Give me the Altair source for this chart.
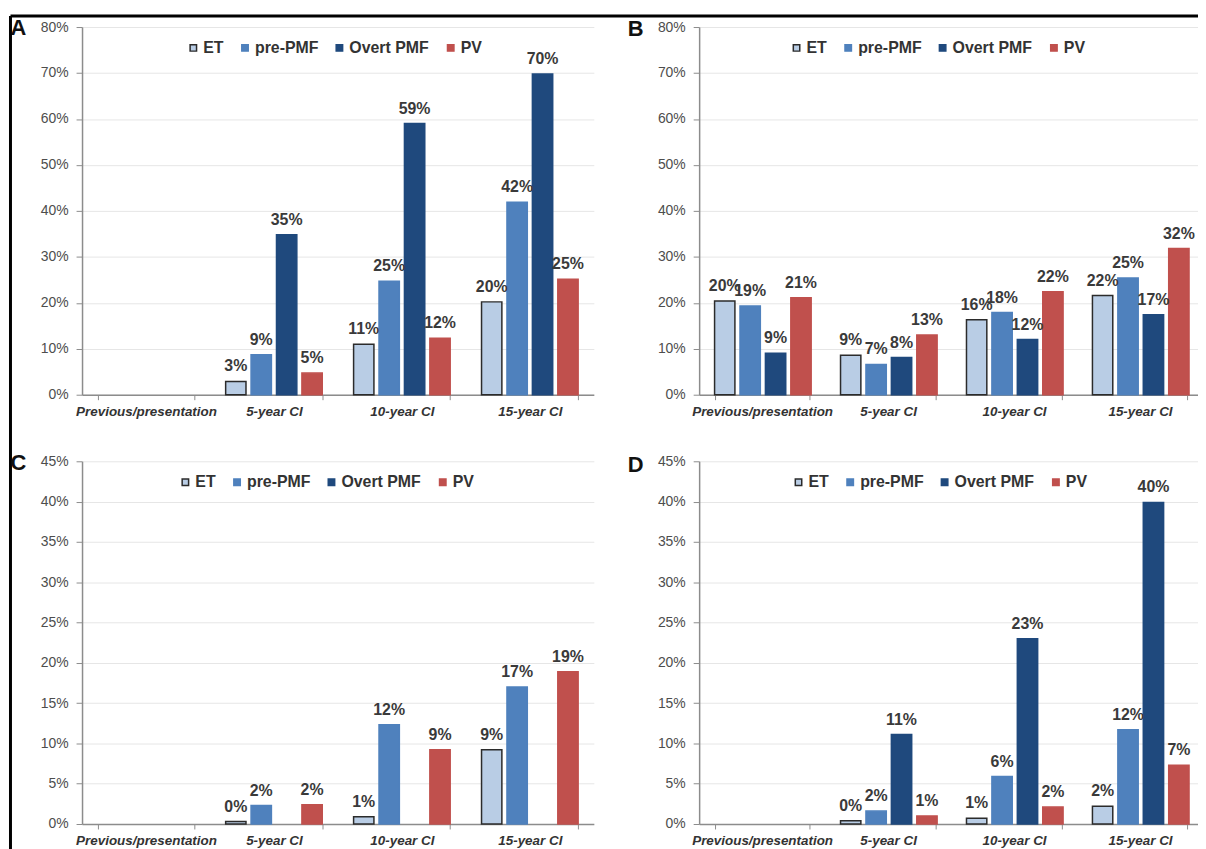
import altair as alt
import pandas as pd

stages = ["Previous/presentation", "5-year CI", "10-year CI", "15-year CI"]
types = ["ET", "pre-PMF", "Overt PMF", "PV"]
fills = ["#B9CDE5", "#4F81BD", "#1F497D", "#C0504D"]
strokes = ["#2b2b2b", "#4F81BD", "#1F497D", "#C0504D"]

# Panel A (values as fractions, None = no bar)
a_et = [None, 0.029, 0.110, 0.202]
a_pre = [None, 0.087, 0.247, 0.419]
a_overt = [None, 0.348, 0.590, 0.698]
a_pv = [None, 0.047, 0.123, 0.251]

# Panel B
b_et = [0.204, 0.086, 0.163, 0.216]
b_pre = [0.193, 0.066, 0.179, 0.254]
b_overt = [0.090, 0.081, 0.120, 0.174]
b_pv = [0.211, 0.130, 0.224, 0.318]

# Panel C
c_et = [None, 0.003, 0.009, 0.092]
c_pre = [None, 0.023, 0.123, 0.170]
c_overt = [None, None, None, None]
c_pv = [None, 0.024, 0.092, 0.189]

# Panel D
d_et = [None, 0.004, 0.007, 0.022]
d_pre = [None, 0.016, 0.059, 0.117]
d_overt = [None, 0.111, 0.230, 0.399]
d_pv = [None, 0.010, 0.021, 0.073]

y_ticks_top = [0, 0.1, 0.2, 0.3, 0.4, 0.5, 0.6, 0.7, 0.8]
y_ticks_bottom = [0, 0.05, 0.1, 0.15, 0.2, 0.25, 0.3, 0.35, 0.4, 0.45]

FONT = "Liberation Sans"


def panel(letter, series, ymax, yvals, width, height, legend_x, legend_y, letter_y, border=False):
    rows = []
    for t, vals in zip(types, series):
        for s, v in zip(stages, vals):
            if v is not None:
                rows.append({"stage": s, "type": t, "value": v})
    df = pd.DataFrame(rows)

    leg = alt.Legend(
        title=None, orient="none", legendX=legend_x, legendY=legend_y,
        direction="horizontal", symbolType="square", symbolSize=42,
        symbolStrokeWidth=1.5, labelFont=FONT, labelFontSize=16,
        labelFontWeight="bold", labelColor="#333333", labelOffset=2,
        columnPadding=13,
    )

    base = alt.Chart(df).encode(
        x=alt.X(
            "stage:N", sort=stages,
            scale=alt.Scale(domain=stages, paddingInner=0.245, paddingOuter=0.1225),
            axis=alt.Axis(
                title=None, labelAngle=0, labelFont=FONT, labelFontSize=13.5,
                labelFontStyle="italic", labelFontWeight="bold", labelColor="#333333",
                labelPadding=5, labelLimit=400, labelOverlap=False, tickBand="extent",
                tickSize=5, tickColor="#8c8c8c", domainColor="#8c8c8c", domainWidth=1.5,
                grid=False,
            ),
        ),
        xOffset=alt.XOffset("type:N", sort=types,
                            scale=alt.Scale(domain=types, paddingInner=0.2, paddingOuter=0)),
        y=alt.Y(
            "value:Q",
            scale=alt.Scale(domain=[0, ymax], nice=False, zero=True),
            axis=alt.Axis(
                title=None, values=yvals, format=".0%", labelFont=FONT,
                labelFontSize=14, labelColor="#4d4d4d", labelPadding=8,
                tickSize=6, tickColor="#8c8c8c", domainColor="#8c8c8c",
                domainWidth=1.5, grid=True, gridColor="#e6e6e6", gridWidth=1,
            ),
        ),
    )

    bars = base.mark_bar(strokeWidth=1.5).encode(
        color=alt.Color("type:N", scale=alt.Scale(domain=types, range=fills), legend=leg),
        stroke=alt.Stroke("type:N", scale=alt.Scale(domain=types, range=strokes), legend=leg),
    )
    labels = base.mark_text(
        font=FONT, fontSize=16, fontWeight="bold", color="#3a3a3a",
        baseline="alphabetic", dy=-10,
    ).encode(text=alt.Text("value:Q", format=".0%"))

    letter_mark = alt.Chart(pd.DataFrame({"t": [letter]})).mark_text(
        font=FONT, fontSize=22, fontWeight="bold", color="#111111",
        align="center", baseline="middle",
    ).encode(x=alt.value(-64), y=alt.value(letter_y), text="t:N")

    layers = [bars, labels, letter_mark]
    if border:
        one = pd.DataFrame({"k": [0]})
        left_line = alt.Chart(one).mark_rule(color="black", strokeWidth=3).encode(
            x=alt.value(-72), y=alt.value(-11), y2=alt.value(836))
        top_line = alt.Chart(one).mark_rule(color="black", strokeWidth=3).encode(
            x=alt.value(-72), x2=alt.value(1124), y=alt.value(-11))
        layers += [left_line, top_line]

    return alt.layer(*layers).properties(width=width, height=height)


pA = panel("A", [a_et, a_pre, a_overt, a_pv], 0.8, y_ticks_top, 515, 370, 104, 13, 1, border=True)
pB = panel("B", [b_et, b_pre, b_overt, b_pv], 0.8, y_ticks_top, 507, 370, 90, 13, 2)
pC = panel("C", [c_et, c_pre, c_overt, c_pv], 0.45, y_ticks_bottom, 515, 365, 96, 13, 2)
pD = panel("D", [d_et, d_pre, d_overt, d_pv], 0.45, y_ticks_bottom, 507, 365, 92, 13, 4)

chart = alt.concat(
    pA, pB, pC, pD, columns=2, spacing={"row": 67, "column": 106}, bounds="flush"
).resolve_scale(
    color="independent", stroke="independent"
).resolve_legend(
    color="independent", stroke="independent"
).properties(
    padding={"left": 0.5, "top": 3.5, "right": -5, "bottom": -12.5},
    background="white",
).configure_view(stroke=None)

chart.save("out.html", embed_options={"renderer": "svg", "actions": False})
